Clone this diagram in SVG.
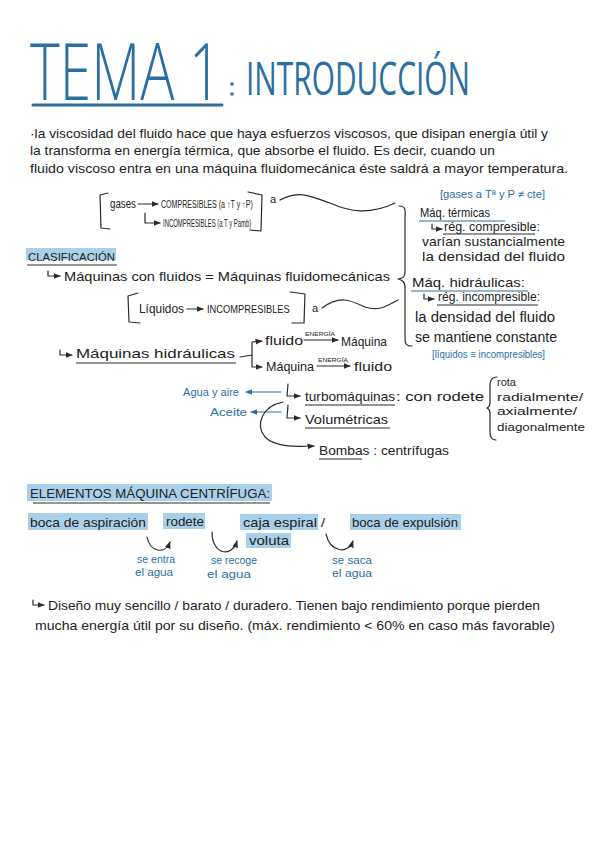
<svg xmlns="http://www.w3.org/2000/svg" width="600" height="848" viewBox="0 0 600 848">
<style>
.t{font-family:"Liberation Sans","DejaVu Sans",sans-serif;fill:#222;font-size:13px}
.s{font-size:11px}
.b{fill:#2a6fa3}
.hl{fill:#a9d0e8}
.ln{fill:none;stroke:#2b2b2b;stroke-width:1.2;stroke-linecap:round;stroke-linejoin:round}
.bln{fill:none;stroke:#2a6fa3;stroke-width:1.2;stroke-linecap:round}
.ul{stroke:#2b2b2b;stroke-width:1}
.bul{stroke:#2a6fa3;stroke-width:1.2}
</style>
<defs>
<marker id="ah" viewBox="0 0 10 10" refX="9" refY="5" markerWidth="6" markerHeight="6" orient="auto-start-reverse"><path d="M0,1 L10,5 L0,9 z" fill="#2b2b2b"/></marker>
<marker id="bah" viewBox="0 0 10 10" refX="9" refY="5" markerWidth="6" markerHeight="6" orient="auto-start-reverse"><path d="M0,1 L10,5 L0,9 z" fill="#2a6fa3"/></marker>
</defs>
<rect width="600" height="848" fill="#fff"/>

<g id="title">
<text transform="translate(30,100) scale(0.72,1)" class="t b" style="font-family:'Open Sans',sans-serif;font-weight:300;font-size:80px" textLength="266" lengthAdjust="spacingAndGlyphs">TEMA 1</text>
<line x1="33" y1="105" x2="222" y2="105" stroke="#2a6fa3" stroke-width="3" stroke-linecap="round"/>
<circle cx="232" cy="84" r="1.8" fill="#2a6fa3"/>
<circle cx="232" cy="94" r="1.8" fill="#2a6fa3"/>
<text transform="translate(246,95) scale(0.7,1)" class="t b" style="font-family:'Open Sans',sans-serif;font-size:45px" textLength="320" lengthAdjust="spacingAndGlyphs">INTRODUCCIÓN</text>
</g>

<g id="intro">
<text x="30" y="138" class="t" textLength="518" lengthAdjust="spacingAndGlyphs">·la viscosidad del fluido hace que haya esfuerzos viscosos, que disipan energía útil y</text>
<text x="30" y="155" class="t" textLength="465" lengthAdjust="spacingAndGlyphs">la transforma en energía térmica, que absorbe el fluido. Es decir, cuando un</text>
<text x="30" y="173" class="t" textLength="538" lengthAdjust="spacingAndGlyphs">fluido viscoso entra en una máquina fluidomecánica éste saldrá a mayor temperatura.</text>
</g>

<g id="gases">
<path class="ln" d="M108,193 L100,195 L101,228 L110,229"/>
<path class="ln" d="M248,192 L262,195 L261,231 L250,230"/>
<text x="110" y="208" class="t" textLength="26" lengthAdjust="spacingAndGlyphs">gases</text>
<line class="ln" x1="138" y1="204" x2="158" y2="204" marker-end="url(#ah)"/>
<text transform="translate(161,208) scale(0.68,1)" class="t" style="font-size:10px" textLength="135" lengthAdjust="spacingAndGlyphs">COMPRESIBLES (a ↑T y ↑P)</text>
<path class="ln" d="M145,213 L145,223 L160,223" marker-end="url(#ah)"/>
<text transform="translate(163,227) scale(0.63,1)" class="t" style="font-size:10px" textLength="140" lengthAdjust="spacingAndGlyphs">INCOMPRESIBLES (a T y Pamb)</text>
<text x="270" y="203" class="t s">a</text>
<path class="ln" d="M280,200 C300,190 310,196 330,203 C350,212 370,215 395,203"/>
</g>

<g id="liquidos">
<path class="ln" d="M138,293 L128,296 L129,322 L140,323"/>
<path class="ln" d="M290,292 L305,294 L304,323 L292,323"/>
<text x="139" y="313" class="t" textLength="45" lengthAdjust="spacingAndGlyphs">Líquidos</text>
<line class="ln" x1="187" y1="309" x2="203" y2="309" marker-end="url(#ah)"/>
<text transform="translate(207,313) scale(0.9,1)" class="t" style="font-size:10px" textLength="92" lengthAdjust="spacingAndGlyphs">INCOMPRESIBLES</text>
<text x="312" y="312" class="t s">a</text>
<path class="ln" d="M322,308 C340,295 350,300 365,307 C380,312 388,305 398,300"/>
</g>

<g id="clasificacion">
<rect class="hl" x="26" y="248" width="90" height="12"/>
<text x="28" y="261" class="t s" textLength="87" lengthAdjust="spacingAndGlyphs">CLASIFICACIÓN</text>
<line class="ul" x1="27" y1="265" x2="117" y2="265"/>
<path class="ln" d="M48,271 L48,276 L60,276" marker-end="url(#ah)"/>
<text x="64" y="281" class="t" textLength="326" lengthAdjust="spacingAndGlyphs">Máquinas con fluidos = Máquinas fluidomecánicas</text>
</g>

<g id="maq-tipos">
<path class="ln" d="M399,206 C407,206 405,212 405,220 L405,272 C405,278 402,278 398,279 C402,280 405,281 405,288 L405,338 C405,345 407,346 412,346"/>
<text x="440" y="198" class="t b s" textLength="105" lengthAdjust="spacingAndGlyphs">[gases a Tª y P ≠ cte]</text>
<text x="420" y="217" class="t" textLength="70" lengthAdjust="spacingAndGlyphs">Máq. térmicas</text>
<line class="bul" x1="419" y1="221" x2="505" y2="221"/>
<path class="ln" d="M432,224 L432,229 L442,229" marker-end="url(#ah)"/>
<text x="444" y="231" class="t" textLength="96" lengthAdjust="spacingAndGlyphs">rég. compresible:</text>
<line class="ul" x1="443" y1="234" x2="535" y2="234"/>
<text x="422" y="246" class="t" textLength="143" lengthAdjust="spacingAndGlyphs">varían sustancialmente</text>
<text x="422" y="261" class="t" textLength="143" lengthAdjust="spacingAndGlyphs">la densidad del fluido</text>
<text x="412" y="287" class="t" textLength="113" lengthAdjust="spacingAndGlyphs">Máq. hidráulicas:</text>
<line class="bul" x1="411" y1="291" x2="528" y2="291"/>
<path class="ln" d="M424,294 L424,299 L434,299" marker-end="url(#ah)"/>
<text x="438" y="301" class="t" textLength="102" lengthAdjust="spacingAndGlyphs">rég. incompresible:</text>
<line class="ul" x1="437" y1="305" x2="538" y2="305"/>
<text x="415" y="322" class="t" style="font-size:14px" textLength="140" lengthAdjust="spacingAndGlyphs">la densidad del fluido</text>
<text x="415" y="342" class="t" style="font-size:14px" textLength="142" lengthAdjust="spacingAndGlyphs">se mantiene constante</text>
<text x="432" y="358" class="t b s" textLength="113" lengthAdjust="spacingAndGlyphs">[líquidos ≡ incompresibles]</text>
</g>

<g id="maq-hidraulicas">
<path class="ln" d="M60,350 L60,355 L72,355" marker-end="url(#ah)"/>
<text x="76" y="358" class="t" textLength="159" lengthAdjust="spacingAndGlyphs">Máquinas hidráulicas</text>
<line class="ul" x1="76" y1="363" x2="236" y2="363"/>
<path class="ln" d="M240,357 L252,355 L252,342 L262,341" marker-end="url(#ah)"/>
<path class="ln" d="M252,355 L252,367 L262,367" marker-end="url(#ah)"/>
<text x="265" y="345" class="t" textLength="38" lengthAdjust="spacingAndGlyphs">fluido</text>
<text x="305" y="336" class="t" style="font-size:6px" textLength="30" lengthAdjust="spacingAndGlyphs">ENERGÍA</text>
<line class="ln" x1="304" y1="340" x2="338" y2="340" marker-end="url(#ah)"/>
<text x="341" y="346" class="t" textLength="46" lengthAdjust="spacingAndGlyphs">Máquina</text>
<text x="266" y="371" class="t" textLength="48" lengthAdjust="spacingAndGlyphs">Máquina</text>
<text x="318" y="362" class="t" style="font-size:6px" textLength="30" lengthAdjust="spacingAndGlyphs">ENERGÍA</text>
<line class="ln" x1="317" y1="366" x2="350" y2="366" marker-end="url(#ah)"/>
<text x="354" y="371" class="t" textLength="38" lengthAdjust="spacingAndGlyphs">fluido</text>
</g>

<g id="subtipos">
<text x="183" y="396" class="t b s" textLength="56" lengthAdjust="spacingAndGlyphs">Agua y aire</text>
<line class="bln" x1="281" y1="392" x2="246" y2="392" marker-end="url(#bah)"/>
<path class="ln" d="M288,384 L287,396 L300,396" marker-end="url(#ah)"/>
<text x="305" y="401" class="t" textLength="90" lengthAdjust="spacingAndGlyphs">turbomáquinas</text>
<line class="ul" x1="305" y1="405" x2="395" y2="405"/>
<text x="396" y="401" class="t" textLength="88" lengthAdjust="spacingAndGlyphs">: con rodete</text>
<path class="ln" d="M497,377 C491,377 490,381 490,387 L490,403 C490,406 489,407 487,408 C489,409 490,410 490,413 L490,432 C490,438 492,440 496,440"/>
<text x="497" y="386" class="t s">rota</text>
<text x="497" y="401" class="t s" textLength="86" lengthAdjust="spacingAndGlyphs">radialmente/</text>
<text x="497" y="415" class="t s" textLength="80" lengthAdjust="spacingAndGlyphs">axialmente/</text>
<text x="497" y="431" class="t s" textLength="88" lengthAdjust="spacingAndGlyphs">diagonalmente</text>
<text x="210" y="416" class="t b s" textLength="37" lengthAdjust="spacingAndGlyphs">Aceite</text>
<line class="bln" x1="281" y1="412" x2="251" y2="412" marker-end="url(#bah)"/>
<path class="ln" d="M288,405 L287,418 L300,418" marker-end="url(#ah)"/>
<text x="305" y="424" class="t" textLength="83" lengthAdjust="spacingAndGlyphs">Volumétricas</text>
<line class="ul" x1="305" y1="428" x2="390" y2="428"/>
<path class="ln" d="M283,402 C262,406 255,425 265,437 C275,447 295,447 314,446" marker-end="url(#ah)"/>
<text x="319" y="455" class="t" textLength="130" lengthAdjust="spacingAndGlyphs">Bombas : centrífugas</text>
<line class="ul" x1="319" y1="459" x2="362" y2="459"/>
</g>

<g id="elementos">
<rect class="hl" x="27" y="484" width="245" height="17"/>
<text x="30" y="498" class="t" textLength="240" lengthAdjust="spacingAndGlyphs">ELEMENTOS MÁQUINA CENTRÍFUGA:</text>
<line class="ul" x1="33" y1="503" x2="270" y2="503"/>
</g>

<g id="boca-aspiracion">
<rect class="hl" x="28" y="513" width="120" height="17"/>
<text x="30" y="527" class="t" textLength="116" lengthAdjust="spacingAndGlyphs">boca de aspiración</text>
</g>
<g id="rodete">
<rect class="hl" x="163" y="513" width="42" height="16"/>
<text x="166" y="526" class="t" textLength="38" lengthAdjust="spacingAndGlyphs">rodete</text>
</g>
<g id="caja-espiral">
<rect class="hl" x="240" y="514" width="78" height="16"/>
<text x="243" y="527" class="t" textLength="82" lengthAdjust="spacingAndGlyphs">caja espiral /</text>
<rect class="hl" x="246" y="533" width="45" height="15"/>
<text x="249" y="545" class="t" textLength="40" lengthAdjust="spacingAndGlyphs">voluta</text>
</g>
<g id="boca-expulsion">
<rect class="hl" x="350" y="514" width="111" height="16"/>
<text x="352" y="527" class="t" textLength="106" lengthAdjust="spacingAndGlyphs">boca de expulsión</text>
</g>

<g id="connectors">
<path class="ln" d="M147,537 C150,552 165,555 170,542" marker-end="url(#ah)"/>
<path class="ln" d="M212,532 C212,555 232,558 237,541" marker-end="url(#ah)"/>
<path class="ln" d="M326,534 C330,552 348,555 353,541" marker-end="url(#ah)"/>
</g>

<g id="notas-flujo">
<text x="137" y="563" class="t b s" textLength="38" lengthAdjust="spacingAndGlyphs">se entra</text>
<text x="135" y="576" class="t b s" textLength="38" lengthAdjust="spacingAndGlyphs">el agua</text>
<text x="211" y="564" class="t b s" textLength="46" lengthAdjust="spacingAndGlyphs">se recoge</text>
<text x="207" y="578" class="t b s" textLength="44" lengthAdjust="spacingAndGlyphs">el agua</text>
<text x="332" y="564" class="t b s" textLength="40" lengthAdjust="spacingAndGlyphs">se saca</text>
<text x="332" y="577" class="t b s" textLength="40" lengthAdjust="spacingAndGlyphs">el agua</text>
</g>

<g id="conclusion">
<path class="ln" d="M33,600 L33,605 L44,605" marker-end="url(#ah)"/>
<text x="48" y="610" class="t" textLength="492" lengthAdjust="spacingAndGlyphs">Diseño muy sencillo / barato / duradero. Tienen bajo rendimiento porque pierden</text>
<text x="35" y="630" class="t" textLength="520" lengthAdjust="spacingAndGlyphs">mucha energía útil por su diseño. (máx. rendimiento &lt; 60% en caso más favorable)</text>
</g>
</svg>
